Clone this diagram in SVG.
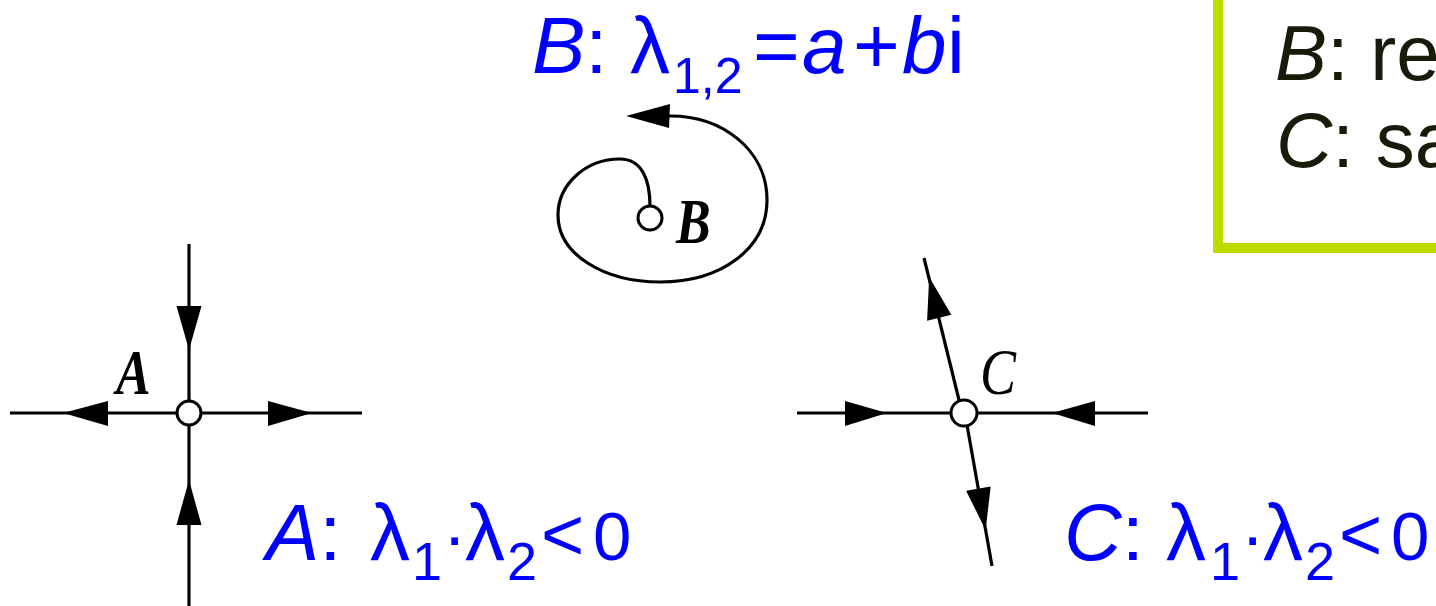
<svg xmlns="http://www.w3.org/2000/svg" width="1436" height="606" viewBox="0 0 1436 606">
<style>
.ln{stroke:#000;stroke-width:3.2;fill:none;stroke-linecap:butt}
.ah{fill:#000;stroke:none}
.pt{fill:#fff;stroke:#000;stroke-width:3}
.lbl{font-family:"Liberation Serif",serif;font-style:italic;fill:#000}
.blue{font-family:"Liberation Sans",Arial,sans-serif;fill:#0000ff}
.it{font-style:italic}
.box{font-family:"Liberation Sans",Arial,sans-serif;fill:#1a1a0a;font-size:78px}
</style>
<rect width="1436" height="606" fill="#fff"/>

<g id="legend-box">
<rect x="1218" y="-20" width="260" height="268" fill="none" stroke="#bcdc00" stroke-width="10"/>
<text class="box" x="1275" y="80"><tspan class="it">B</tspan>: re</text>
<text class="box" x="1276" y="167"><tspan class="it">C</tspan>: sa</text>
</g>

<g id="connectors">
<!-- A -->
<line class="ln" x1="189" y1="244" x2="189" y2="606"/>
<line class="ln" x1="10" y1="413" x2="362" y2="413"/>
<polygon class="ah" points="176.5,306 201.5,306 189,350"/>
<polygon class="ah" points="176.5,525 201.5,525 189,480"/>
<polygon class="ah" points="108,401 108,426 63,413"/>
<polygon class="ah" points="268,401 268,426 312,413"/>
<!-- B -->
<path class="ln" d="M650,206 C650,180 642,159 620,159 C585,159 558,185 558,215 C558,255 605,282 660,282 C722,282 767,248 767,200 C767,150 722,115 668,116"/>
<polygon class="ah" points="626,116 670,104 669,128"/>
<!-- C -->
<line class="ln" x1="797" y1="413" x2="1148" y2="413"/>
<line class="ln" x1="924" y1="258" x2="960" y2="404"/>
<line class="ln" x1="967" y1="425" x2="992" y2="566"/>
<polygon class="ah" points="845,401 845,426 887,413"/>
<polygon class="ah" points="1095,401 1095,426 1052,413"/>
<polygon class="ah" points="929.2,277 951.3,314.8 927.1,320.8"/>
<polygon class="ah" points="985.6,530 990.7,486.5 966.1,490.7"/>
</g>

<g id="node-A">
<circle class="pt" cx="189" cy="413" r="12"/>
<text class="lbl" font-weight="bold" font-size="52" transform="translate(116,394) scale(1,1.2)">A</text>
<text class="blue" font-size="80" y="560"><tspan class="it" x="266">A</tspan><tspan>:</tspan><tspan x="370">λ</tspan><tspan x="412" y="580" font-size="54">1</tspan><tspan x="443" y="560" font-size="70">·</tspan><tspan x="465" y="560">λ</tspan><tspan x="507" y="580" font-size="54">2</tspan><tspan x="541" y="560" font-size="74">&lt;</tspan><tspan x="593" y="560" font-size="69">0</tspan></text>
</g>

<g id="node-B">
<circle class="pt" cx="650" cy="218" r="12"/>
<text class="lbl" font-weight="bold" font-size="52" transform="translate(676,243) scale(1,1.2)">B</text>
<text class="blue" font-size="80" y="73"><tspan class="it" x="532">B</tspan><tspan>:</tspan><tspan x="630">λ</tspan><tspan x="673" y="93" font-size="50">1,2</tspan><tspan x="753" y="73">=</tspan><tspan class="it" x="802">a</tspan><tspan x="853">+</tspan><tspan class="it" x="902">b</tspan><tspan x="947">i</tspan></text>
</g>

<g id="node-C">
<circle class="pt" cx="964" cy="413" r="13"/>
<text class="lbl" font-size="54" transform="translate(980,394) scale(1,1.2)">C</text>
<text class="blue" font-size="80" y="560"><tspan class="it" x="1064">C</tspan><tspan>:</tspan><tspan x="1166">λ</tspan><tspan x="1210" y="580" font-size="54">1</tspan><tspan x="1241" y="560" font-size="70">·</tspan><tspan x="1263" y="560">λ</tspan><tspan x="1305" y="580" font-size="54">2</tspan><tspan x="1339" y="560" font-size="74">&lt;</tspan><tspan x="1391" y="560" font-size="69">0</tspan></text>
</g>
</svg>
